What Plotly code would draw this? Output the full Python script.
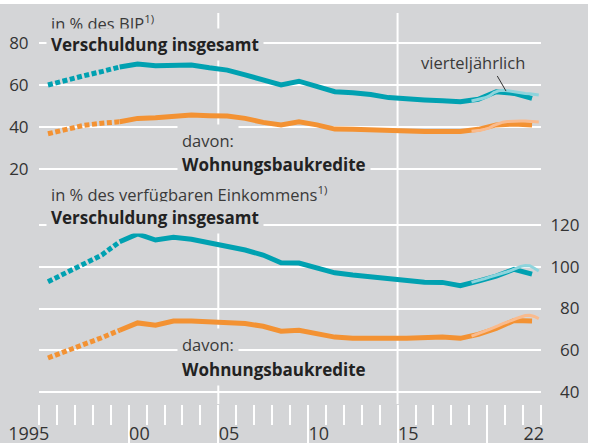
import plotly.graph_objects as go

# ---------------- data ----------------
years = list(range(1995, 2023))
# in % des BIP
bip_total = [60.0, 62.4, 64.4, 66.4, 68.6, 70.0, 69.2, 69.2, 69.5, 68.2,
             67.1, 64.8, 62.4, 60.0, 61.8, 59.2, 56.8, 56.3, 55.5, 54.0,
             53.2, 52.9, 52.5, 52.0, 53.2, 56.8, 56.0, 53.6]
bip_housing = [36.8, 39.0, 40.8, 41.8, 42.5, 44.1, 44.4, 45.2, 45.7, 45.4,
               45.2, 44.1, 42.2, 41.0, 42.5, 41.0, 39.0, 38.9, 38.6, 38.1,
               37.8, 37.8, 37.8, 37.9, 38.9, 41.0, 41.4, 41.0]
# in % des verfügbaren Einkommens
inc_total = [92.8, 97.1, 101.5, 105.6, 112.0, 115.7, 112.8, 114.1, 113.2, 111.5,
             110.0, 108.0, 105.6, 101.9, 101.8, 99.2, 97.1, 96.0, 95.2, 93.9,
             93.3, 92.6, 92.5, 90.9, 93.1, 95.5, 98.8, 96.5]
inc_housing = [56.3, 59.3, 62.8, 66.0, 69.6, 73.1, 72.0, 74.0, 74.0, 73.6,
               73.1, 72.8, 71.5, 69.1, 69.6, 68.0, 66.3, 65.7, 66.0, 65.8,
               65.8, 66.0, 66.3, 65.7, 67.6, 70.4, 74.3, 74.0]

# quarterly (vierteljährlich), 2019 Q1 - 2022 Q4
q_years = [2019]*4 + [2020]*4 + [2021]*4 + [2022]*4
q_num = [1, 2, 3, 4] * 4
q_bip_total = [52.4, 52.8, 53.3, 53.9, 54.8, 56.4, 57.2, 57.5,
               57.3, 56.9, 56.6, 56.4, 56.0, 55.8, 55.5, 55.2]
q_bip_housing = [38.0, 38.2, 38.5, 39.0, 39.6, 40.8, 41.7, 42.3,
                 42.6, 42.8, 42.9, 42.9, 42.8, 42.6, 42.5, 42.4]
q_inc_total = [92.5, 93.0, 93.6, 94.3, 95.0, 95.6, 96.3, 97.0,
               97.6, 98.4, 99.3, 100.2, 100.6, 100.5, 99.3, 98.0]
q_inc_housing = [66.8, 67.5, 68.3, 69.2, 70.0, 70.8, 71.8, 72.8,
                 73.4, 74.3, 75.2, 76.0, 76.6, 76.8, 76.2, 75.2]

x_label_years = [1995, 2000, 2005, 2010, 2015, 2022]
x_label_text = ["1995", "00", "05", "10", "15", "22"]
left_ticks = [20, 40, 60, 80]
right_ticks = [40, 60, 80, 100, 120]

# ---------------- style / geometry ----------------
TEAL = "#00a1b1"
ORANGE = "#f39233"
LTEAL = "#8ed4dc"
LORANGE = "#f9bb8e"
BG = "#d4d5d7"
FONT = "Open Sans"

W, H = 591, 443
ML, MR, MT, MB = 39, 50, 13, 39
PW, PH = W - ML - MR, H - MT - MB


def pxx(x):
    return (x - ML) / PW


def pxy(y):
    return (H - MB - y) / PH


# y-axis ranges derived from pixel geometry of the reference
top_hi, top_lo = 80 + (43 - MT) / 2.1, 20 - (H - MB - 169) / 2.1
bot_ppu = (392 - 225) / 80
bot_hi, bot_lo = 120 + (225 - MT) / bot_ppu, 40 - (H - MB - 392) / bot_ppu

xa = [y + 0.5 for y in years]
xq = [y + (q - 0.5) / 4 for y, q in zip(q_years, q_num)]
NDASH = 5  # 1995-1999 dashed

fig = go.Figure()


def add_series(vals, qvals, color, lcolor, yaxis):
    fig.add_trace(go.Scatter(x=xa[:NDASH], y=vals[:NDASH], mode="lines", yaxis=yaxis,
                             line=dict(color=color, width=5, dash="5px,2.5px"),
                             hoverinfo="skip", showlegend=False))
    fig.add_trace(go.Scatter(x=xa[NDASH - 1:], y=vals[NDASH - 1:], mode="lines", yaxis=yaxis,
                             line=dict(color=color, width=5),
                             hoverinfo="skip", showlegend=False))
    fig.add_trace(go.Scatter(x=xq, y=qvals, mode="lines", yaxis=yaxis,
                             line=dict(color=lcolor, width=3),
                             hoverinfo="skip", showlegend=False))


add_series(bip_total, q_bip_total, TEAL, LTEAL, "y")
add_series(bip_housing, q_bip_housing, ORANGE, LORANGE, "y")
add_series(inc_total, q_inc_total, TEAL, LTEAL, "y2")
add_series(inc_housing, q_inc_housing, ORANGE, LORANGE, "y2")
# carrier trace for the label axis
fig.add_trace(go.Scatter(x=[1995, 2023], y=[None, None], xaxis="x2", yaxis="y",
                         mode="lines", hoverinfo="skip", showlegend=False))

tickfont = dict(family=FONT, size=17, color="#333333")
label_vals = [y + (0.0 if i == 0 else 0.6) for i, y in enumerate(x_label_years)]
label_text = [t + ("\u2007\u2007" if i == 0 else "") for i, t in enumerate(x_label_text)]
boundaries = list(range(years[0], years[-1] + 2))

fig.update_layout(
    template="none",
    width=W, height=H,
    margin=dict(l=ML, r=MR, t=MT, b=MB, pad=0, autoexpand=False),
    paper_bgcolor=BG, plot_bgcolor=BG,
    showlegend=False,
    xaxis=dict(range=[years[0], years[-1] + 1], showgrid=False, zeroline=False, showline=False,
               automargin=False,
               tickmode="array", tickvals=[2000, 2005, 2010, 2015, 2020],
               ticks="outside", ticklen=40, tickwidth=2, tickcolor="white",
               showticklabels=False,
               minor=dict(tickmode="array", tickvals=boundaries, ticks="outside",
                          ticklen=20, tickwidth=2, tickcolor="white", showgrid=False)),
    xaxis2=dict(overlaying="x", anchor="y", side="bottom", range=[years[0], years[-1] + 1],
                showgrid=False, zeroline=False, showline=False, automargin=False,
                tickmode="array", tickvals=label_vals, ticktext=label_text,
                ticks="outside", ticklen=13, tickcolor="rgba(0,0,0,0)",
                tickfont=dict(family=FONT, size=18, color="#333333")),
    yaxis=dict(range=[top_lo, top_hi], tickmode="array", tickvals=left_ticks,
               ticktext=[str(v) for v in left_ticks], automargin=False,
               showgrid=True, gridcolor="white", gridwidth=2, zeroline=False, showline=False,
               ticks="outside", ticklen=6, tickcolor="rgba(0,0,0,0)", tickfont=tickfont),
    yaxis2=dict(overlaying="y", side="right", range=[bot_lo, bot_hi], tickmode="array",
                tickvals=right_ticks, automargin=False,
                ticktext=[("\u2007" if v < 100 else "") + str(v) for v in right_ticks],
                showgrid=True, gridcolor="white", gridwidth=2, zeroline=False, showline=False,
                ticks="outside", ticklen=5, tickcolor="rgba(0,0,0,0)", tickfont=tickfont),
)

shapes = []
for yr in (2005, 2015):
    shapes.append(dict(type="line", xref="x", yref="paper", x0=yr, x1=yr, y0=0, y1=1,
                       line=dict(color="white", width=2), layer="below"))
# white frame strips (top and right)
shapes.append(dict(type="rect", xref="paper", yref="paper", x0=pxx(0), x1=pxx(W), y0=pxy(4), y1=pxy(0),
                   line=dict(width=0), fillcolor="white", layer="below"))
shapes.append(dict(type="rect", xref="paper", yref="paper", x0=pxx(588), x1=pxx(W), y0=pxy(H), y1=pxy(0),
                   line=dict(width=0), fillcolor="white", layer="below"))
# leader line for "vierteljährlich"
shapes.append(dict(type="line", xref="x", yref="y", x0=2020.56, y0=64.3, x1=2021.05, y1=57.1,
                   line=dict(color="#333333", width=1)))
fig.update_layout(shapes=shapes)

labels = [
    ("in % des BIP<sup>1)</sup>", 50, 23, False),
    ("<b>Verschuldung insgesamt</b>", 50, 45, True),
    ("davon:", 181, 140, False),
    ("<b>Wohnungsbaukredite</b>", 181, 164, True),
    ("in % des verfügbaren Einkommens<sup>1)</sup>", 50, 194, False),
    ("<b>Verschuldung insgesamt</b>", 50, 217, True),
    ("davon:", 181, 344, False),
    ("<b>Wohnungsbaukredite</b>", 181, 369, True),
    ("vierteljährlich", 420, 62, False),
]
for text, x, y, bold in labels:
    fig.add_annotation(text=text, xref="paper", yref="paper", x=pxx(x - 4), y=pxy(y),
                       xanchor="left", yanchor="middle", showarrow=False,
                       bgcolor=BG if "viertel" not in text else "rgba(0,0,0,0)", borderpad=4,
                       font=dict(family=FONT, size=17 if bold else 16.5,
                                 color="#222222" if bold else "#3a3a3a"))

fig.write_html("out.html", config={"displayModeBar": False, "staticPlot": True},
               post_script="document.body.style.margin='0';document.body.style.overflow='hidden';")
